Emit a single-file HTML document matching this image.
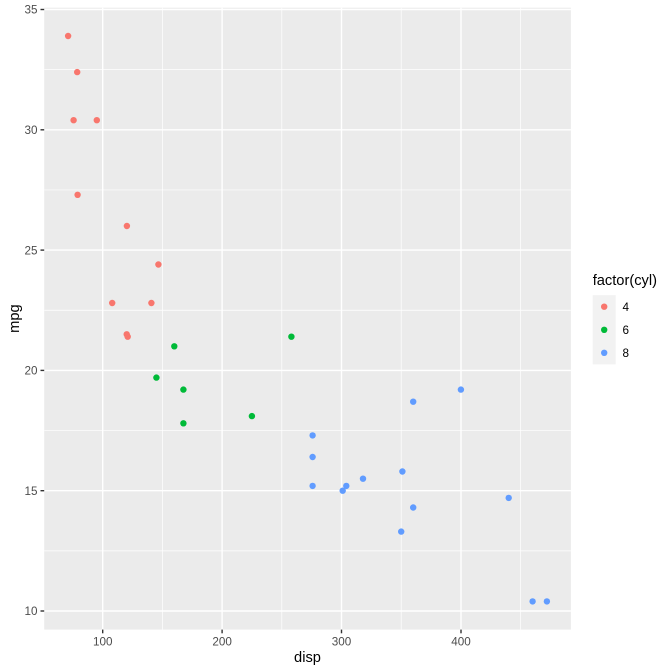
<!DOCTYPE html>
<html><head><meta charset="utf-8"><style>
html,body{margin:0;padding:0;background:#fff;}
svg{display:block;}
text{font-family:"Liberation Sans",Arial,sans-serif;}
</style></head><body>
<svg width="672" height="672" viewBox="0 0 672 672" xmlns="http://www.w3.org/2000/svg">
<rect x="0" y="0" width="672" height="672" fill="#fff"/>
<rect x="44.2" y="7.7" width="526.7" height="621.9" fill="#EBEBEB"/>
<g stroke="#fff" stroke-width="0.7">
<line x1="162.4" x2="162.4" y1="7.7" y2="629.6"/>
<line x1="281.8" x2="281.8" y1="7.7" y2="629.6"/>
<line x1="401.2" x2="401.2" y1="7.7" y2="629.6"/>
<line x1="520.6" x2="520.6" y1="7.7" y2="629.6"/>
<line x1="44.2" x2="570.9" y1="550.85" y2="550.85"/>
<line x1="44.2" x2="570.9" y1="430.55" y2="430.55"/>
<line x1="44.2" x2="570.9" y1="310.25" y2="310.25"/>
<line x1="44.2" x2="570.9" y1="189.95" y2="189.95"/>
<line x1="44.2" x2="570.9" y1="69.65" y2="69.65"/>
</g>
<g stroke="#fff" stroke-width="1.4">
<line x1="102.7" x2="102.7" y1="7.7" y2="629.6"/>
<line x1="222.1" x2="222.1" y1="7.7" y2="629.6"/>
<line x1="341.5" x2="341.5" y1="7.7" y2="629.6"/>
<line x1="461.0" x2="461.0" y1="7.7" y2="629.6"/>
<line x1="44.2" x2="570.9" y1="611" y2="611"/>
<line x1="44.2" x2="570.9" y1="490.7" y2="490.7"/>
<line x1="44.2" x2="570.9" y1="370.4" y2="370.4"/>
<line x1="44.2" x2="570.9" y1="250.1" y2="250.1"/>
<line x1="44.2" x2="570.9" y1="129.8" y2="129.8"/>
<line x1="44.2" x2="570.9" y1="9.5" y2="9.5"/>
</g>
<!-- points -->
<g fill="#F8766D">
<circle cx="112.2" cy="303.0" r="3.2"/>
<circle cx="158.4" cy="264.5" r="3.2"/>
<circle cx="151.4" cy="303.0" r="3.2"/>
<circle cx="77.2" cy="72.1" r="3.2"/>
<circle cx="73.6" cy="120.2" r="3.2"/>
<circle cx="68.1" cy="36.0" r="3.2"/>
<circle cx="126.7" cy="334.3" r="3.2"/>
<circle cx="77.6" cy="194.8" r="3.2"/>
<circle cx="126.9" cy="226.0" r="3.2"/>
<circle cx="96.8" cy="120.2" r="3.2"/>
<circle cx="127.7" cy="336.7" r="3.2"/>
</g>
<g fill="#00BA38">
<circle cx="174.3" cy="346.3" r="3.2"/>
<circle cx="291.4" cy="336.7" r="3.2"/>
<circle cx="251.9" cy="416.1" r="3.2"/>
<circle cx="183.4" cy="389.6" r="3.2"/>
<circle cx="183.4" cy="423.3" r="3.2"/>
<circle cx="156.4" cy="377.6" r="3.2"/>
</g>
<g fill="#619CFF">
<circle cx="413.2" cy="401.7" r="3.2"/>
<circle cx="413.2" cy="507.5" r="3.2"/>
<circle cx="312.6" cy="457.0" r="3.2"/>
<circle cx="312.6" cy="435.4" r="3.2"/>
<circle cx="312.6" cy="485.9" r="3.2"/>
<circle cx="546.9" cy="601.4" r="3.2"/>
<circle cx="532.6" cy="601.4" r="3.2"/>
<circle cx="508.7" cy="497.9" r="3.2"/>
<circle cx="363.0" cy="478.7" r="3.2"/>
<circle cx="346.3" cy="485.9" r="3.2"/>
<circle cx="401.2" cy="531.6" r="3.2"/>
<circle cx="460.9" cy="389.6" r="3.2"/>
<circle cx="402.4" cy="471.5" r="3.2"/>
<circle cx="342.7" cy="490.7" r="3.2"/>
</g>
<!-- ticks -->
<g stroke="#333" stroke-width="1.4">
<line x1="40.5" x2="44.2" y1="611" y2="611"/>
<line x1="40.5" x2="44.2" y1="490.7" y2="490.7"/>
<line x1="40.5" x2="44.2" y1="370.4" y2="370.4"/>
<line x1="40.5" x2="44.2" y1="250.1" y2="250.1"/>
<line x1="40.5" x2="44.2" y1="129.8" y2="129.8"/>
<line x1="40.5" x2="44.2" y1="9.5" y2="9.5"/>
<line x1="102.7" x2="102.7" y1="629.6" y2="633.3"/>
<line x1="222.1" x2="222.1" y1="629.6" y2="633.3"/>
<line x1="341.5" x2="341.5" y1="629.6" y2="633.3"/>
<line x1="461.0" x2="461.0" y1="629.6" y2="633.3"/>
</g>
<g fill="#4D4D4D" font-size="11.7" text-anchor="end">
<text x="37.5" y="615.2">10</text>
<text x="37.5" y="494.9">15</text>
<text x="37.5" y="374.6">20</text>
<text x="37.5" y="254.3">25</text>
<text x="37.5" y="134.0">30</text>
<text x="37.5" y="13.7">35</text>
</g>
<g fill="#4D4D4D" font-size="11.7" text-anchor="middle">
<text x="102.7" y="645.5">100</text>
<text x="222.1" y="645.5">200</text>
<text x="341.5" y="645.5">300</text>
<text x="461.0" y="645.5">400</text>
</g>
<text x="307.5" y="662" font-size="14.67" text-anchor="middle" fill="#000">disp</text>
<text transform="translate(19,318.6) rotate(-90)" font-size="14.67" text-anchor="middle" fill="#000">mpg</text>
<!-- legend -->
<text x="592.7" y="285" font-size="14.67" fill="#000">factor(cyl)</text>
<rect x="592.7" y="295.2" width="23.04" height="69.12" fill="#F2F2F2"/>
<circle cx="604.2" cy="306.7" r="3.2" fill="#F8766D"/>
<circle cx="604.2" cy="329.8" r="3.2" fill="#00BA38"/>
<circle cx="604.2" cy="352.8" r="3.2" fill="#619CFF"/>
<g font-size="11.7" fill="#000">
<text x="622.5" y="310.9">4</text>
<text x="622.5" y="334.0">6</text>
<text x="622.5" y="357.0">8</text>
</g>
</svg>
</body></html>
